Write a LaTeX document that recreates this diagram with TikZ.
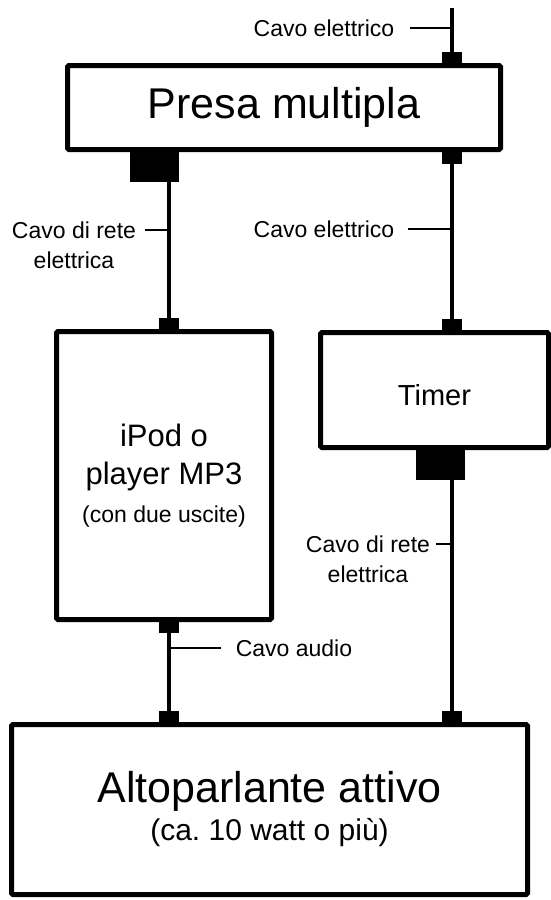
\documentclass[tikz,border=0pt]{standalone}
\usepackage{fontspec}
\setmainfont{Liberation Sans}
\frenchspacing
\begin{document}
\begin{tikzpicture}[x=1pt, y=-1pt]
        \tikzset{
            unitbox/.style={
                draw=black,
                line width=5pt,
                rounded corners=1.5pt,
                inner sep=0pt,
                align=center
            },
            cable/.style={draw=black, line width=4pt},
            leader/.style={draw=black, line width=1.8pt},
            plug/.style={fill=black, inner sep=0pt, minimum width=20pt, minimum height=11pt},
            bigplug/.style={fill=black, inner sep=0pt, minimum width=49pt, minimum height=30pt},
            cablelabel/.style={inner sep=0pt, align=center, font=\fontsize{23}{30}\selectfont}
        }
        \useasboundingbox (0,0) rectangle (551,900);

        % Geraete
        \node[unitbox, minimum width=433pt, minimum height=84pt, font=\fontsize{43}{50}\selectfont]
            (presa) at (284,107.5) {Presa multipla};
        \node[unitbox, minimum width=215pt, minimum height=288pt, font=\fontsize{31}{38}\selectfont]
            (ipod) at (164,475.5) {iPod o\\player MP3\\{\fontsize{23}{30}\selectfont (con due uscite)}};
        \node[unitbox, minimum width=228pt, minimum height=115pt, text height=31pt, font=\fontsize{29}{35}\selectfont]
            (timer) at (434.5,390) {Timer};
        \node[unitbox, minimum width=516pt, minimum height=170pt, font=\fontsize{43}{38}\selectfont]
            (alto) at (269.5,809.5) {Altoparlante attivo\\{\fontsize{30}{38}\selectfont (ca. 10 watt o più)}};

        % Kabelachsen
        \coordinate (mains) at (452,8);
        \coordinate (lplug) at (169,0);
        \coordinate (rplug) at (452,0);
        \coordinate (lbig) at (154.5,0);
        \coordinate (rbig) at (440.5,0);

        % Stecker
        \node[plug, anchor=south] (presaIn) at (presa.north -| rplug) {};
        \node[bigplug, anchor=north] (presaOutL) at (presa.south -| lbig) {};
        \node[plug, anchor=north, minimum height=12pt] (presaOutR) at (presa.south -| rplug) {};
        \node[plug, anchor=south] (ipodIn) at (ipod.north -| lplug) {};
        \node[plug, anchor=north] (ipodOut) at (ipod.south -| lplug) {};
        \node[plug, anchor=south] (timerIn) at (timer.north -| rplug) {};
        \node[bigplug, anchor=north] (timerOut) at (timer.south -| rbig) {};
        \node[plug, anchor=south] (altoInL) at (alto.north -| lplug) {};
        \node[plug, anchor=south] (altoInR) at (alto.north -| rplug) {};

        % Kabel
        \draw[cable] (mains) -- (presa.north -| mains);
        \draw[cable] (presa.south -| lplug) -- (ipod.north -| lplug);
        \draw[cable] (presa.south -| rplug) -- (timer.north -| rplug);
        \draw[cable] (ipod.south -| lplug) -- (alto.north -| lplug);
        \draw[cable] (timer.south -| rplug) -- (alto.north -| rplug);

        % Beschriftungen
        \node[cablelabel] (mainsLabel) at (324,28) {Cavo elettrico};
        \node[cablelabel, anchor=north] (ipodPower) at (74,221.5) {Cavo di rete\\elettrica};
        \node[cablelabel] (timerPower) at (324,229) {Cavo elettrico};
        \node[cablelabel, anchor=north] (altoPower) at (368,535.5) {Cavo di rete\\elettrica};
        \node[cablelabel] (audioLabel) at (294,648) {Cavo audio};

        \draw[leader] ([xshift=15pt]mainsLabel.east) -- (mainsLabel.east -| mains);
        \draw[leader] ([xshift=9pt, yshift=-8.5pt]ipodPower.north east) -- ([yshift=-8.5pt]ipodPower.north east -| lplug);
        \draw[leader] ([xshift=13pt]timerPower.east) -- (timerPower.east -| rplug);
        \draw[leader] ([xshift=6pt, yshift=-8.5pt]altoPower.north east) -- ([yshift=-8.5pt]altoPower.north east -| rplug);
        \draw[leader] ([xshift=-15pt]audioLabel.west) -- (audioLabel.west -| lplug);
    \end{tikzpicture}
\end{document}
